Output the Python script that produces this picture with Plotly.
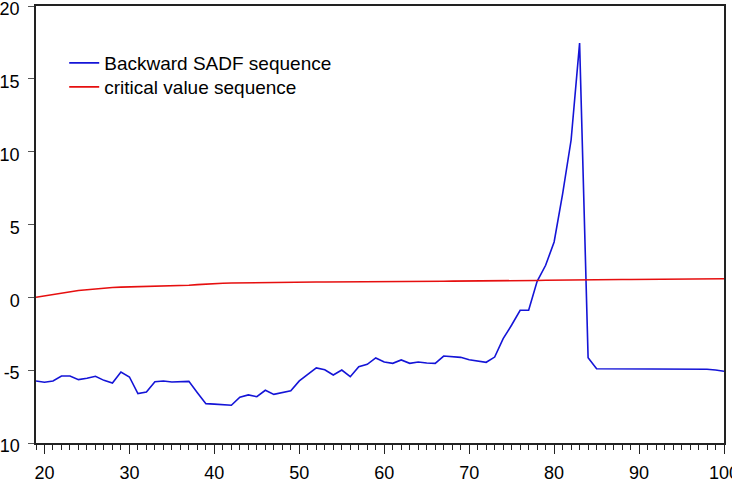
import plotly.graph_objects as go

x_vals = list(range(19, 101))

sadf_values = [
    -5.74, -5.83, -5.74, -5.40, -5.40, -5.65, -5.56, -5.42, -5.70, -5.88,   # 19-28
    -5.13, -5.47, -6.61, -6.50, -5.79, -5.74, -5.81, -5.81, -5.77, -6.55,   # 29-38
    -7.30, -7.33, -7.37, -7.41, -6.86, -6.70, -6.82, -6.38, -6.66, -6.52,   # 39-48
    -6.41, -5.74, -5.28, -4.85, -4.97, -5.33, -4.99, -5.45, -4.76, -4.60,   # 49-58
    -4.16, -4.44, -4.53, -4.30, -4.53, -4.44, -4.51, -4.53, -4.03, -4.07,   # 59-68
    -4.12, -4.28, -4.37, -4.46, -4.10, -2.84, -1.90, -0.89, -0.89, 1.10,    # 69-78
    2.20, 3.80, 7.10, 10.80, 17.45, -4.14, -4.90, -4.90, -4.90, -4.90,      # 79-88
    -4.90, -4.90, -4.90, -4.90, -4.90, -4.90, -4.90, -4.91, -4.92, -4.94,   # 89-98
    -4.99, -5.08,                                                           # 99-100
]

critical_values = [
    0.00, 0.10, 0.20, 0.31, 0.41, 0.47, 0.52, 0.58, 0.63, 0.68,   # 19-28
    0.70, 0.71, 0.72, 0.74, 0.75, 0.76, 0.77, 0.79, 0.83, 0.87,   # 29-38
    0.92, 0.95, 0.97, 0.98, 0.99, 1.01, 1.02, 1.03, 1.03, 1.04,   # 39-48
    1.04, 1.04, 1.05, 1.05, 1.05, 1.05, 1.06, 1.06, 1.06, 1.07,   # 49-58
    1.07, 1.07, 1.08, 1.08, 1.08, 1.09, 1.09, 1.10, 1.10, 1.11,   # 59-68
    1.11, 1.12, 1.12, 1.13, 1.13, 1.14, 1.14, 1.15, 1.16, 1.16,   # 69-78
    1.17, 1.18, 1.18, 1.19, 1.19, 1.20, 1.20, 1.21, 1.21, 1.22,   # 79-88
    1.22, 1.23, 1.23, 1.24, 1.24, 1.25, 1.25, 1.26, 1.26, 1.27,   # 89-98
    1.27, 1.28,                                                   # 99-100
]

series_names = ["Backward SADF sequence", "critical value sequence"]
y_tick_vals = [-10, -5, 0, 5, 10, 15, 20]
y_tick_text = ["-10", "-5", "0", "5", "10", "15", "20"]
x_tick_vals = [20, 30, 40, 50, 60, 70, 80, 90, 100]
x_tick_text = ["20", "30", "40", "50", "60", "70", "80", "90", "100"]

FONT = "Liberation Sans, Arial, Helvetica, sans-serif"

fig = go.Figure()
fig.add_trace(go.Scatter(x=x_vals, y=sadf_values, mode="lines", name=series_names[0],
                         line=dict(color="rgb(20,20,215)", width=1.6), legend="legend"))
fig.add_trace(go.Scatter(x=x_vals, y=critical_values, mode="lines", name=series_names[1],
                         line=dict(color="rgb(230,15,15)", width=1.6), legend="legend2"))

leg_common = dict(xanchor="left", yanchor="middle", bgcolor="rgba(0,0,0,0)",
                  font=dict(size=19, family=FONT, color="black"), itemwidth=30)

fig.update_layout(
    width=732, height=498,
    margin=dict(l=36, r=8, t=6, b=55, autoexpand=False),
    paper_bgcolor="white", plot_bgcolor="white",
    font=dict(family=FONT, size=18, color="black"),
    showlegend=True,
    legend=dict(x=0.041, y=0.8696, **leg_common),
    legend2=dict(x=0.041, y=0.8146, **leg_common),
)
fig.update_xaxes(
    range=[19, 100], showgrid=False, zeroline=False,
    showline=True, mirror=True, linecolor="#222", linewidth=1.5,
    tickmode="array", tickvals=x_tick_vals, ticktext=x_tick_text,
    ticks="outside", ticklen=9, tickwidth=1.2, tickcolor="#222",
    minor=dict(dtick=1, tick0=0, ticks="outside", ticklen=5, tickwidth=1, tickcolor="#222"),
    ticklabelstandoff=4, ticklabeloverflow="allow",
    tickfont=dict(size=18, family=FONT, color="black"),
)
fig.update_yaxes(
    range=[-10, 20], showgrid=False, zeroline=False,
    showline=True, mirror=True, linecolor="#222", linewidth=1.5,
    tickmode="array", tickvals=y_tick_vals, ticktext=y_tick_text,
    ticks="outside", ticklen=6, tickwidth=1.2, tickcolor="#555",
    ticklabelstandoff=5, ticklabelshift=3, ticklabeloverflow="allow",
    tickfont=dict(size=18, family=FONT, color="black"),
)

fig.write_html("out.html")
